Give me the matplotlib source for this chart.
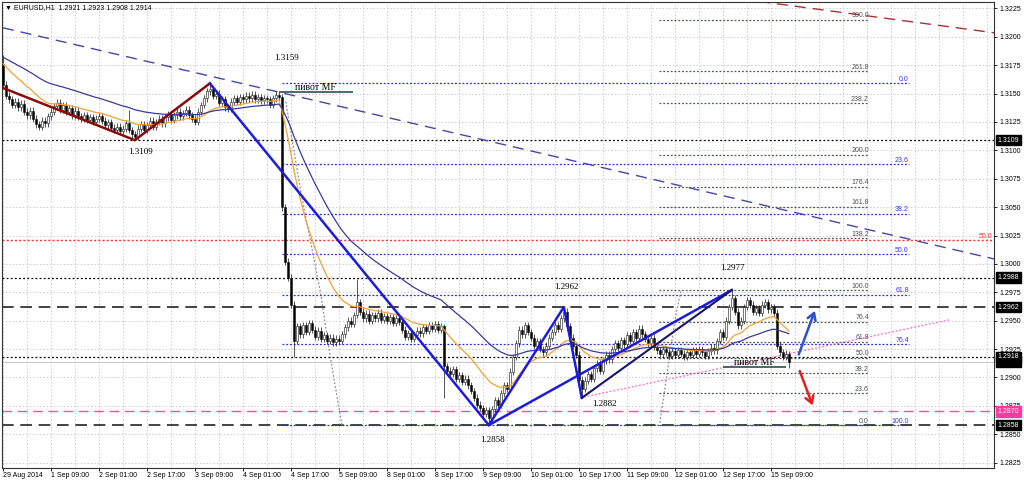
import numpy as np
import matplotlib.pyplot as plt
import matplotlib.transforms as mtransforms

# hourly EURUSD closes (bar 0 = 29 Aug 2014)
first_open = 1.3176
closes = [
    1.3158, 1.3148, 1.3145, 1.3140, 1.3143, 1.3138, 1.3141, 1.3134, 1.3131, 1.3135,
    1.3128, 1.3123, 1.3121, 1.3126, 1.3124, 1.3130, 1.3134, 1.3139, 1.3142, 1.3136,
    1.3140, 1.3134, 1.3137, 1.3131, 1.3135, 1.3130, 1.3128, 1.3131, 1.3127, 1.3129,
    1.3125, 1.3128, 1.3130, 1.3126, 1.3122, 1.3125, 1.3120, 1.3118, 1.3121, 1.3117,
    1.3119, 1.3124, 1.3118, 1.3114, 1.3112, 1.3119, 1.3123, 1.3118, 1.3122, 1.3126,
    1.3121, 1.3125, 1.3128, 1.3124, 1.3129, 1.3132, 1.3127, 1.3131, 1.3134, 1.3130,
    1.3133, 1.3136, 1.3131, 1.3128, 1.3125, 1.3134, 1.3140, 1.3146, 1.3152, 1.3154,
    1.3148, 1.3150, 1.3142, 1.3145, 1.3138, 1.3137, 1.3143, 1.3146, 1.3143, 1.3147,
    1.3145, 1.3148, 1.3146, 1.3149, 1.3145, 1.3147, 1.3144, 1.3146, 1.3145, 1.3140,
    1.3146, 1.3149, 1.3147, 1.3050, 1.3002, 1.2988, 1.2964, 1.2932, 1.2945, 1.2938,
    1.2946, 1.2940, 1.2948, 1.2942, 1.2936, 1.2941, 1.2934, 1.2937, 1.2932, 1.2935,
    1.2931, 1.2934, 1.2932, 1.2938, 1.2944, 1.2950, 1.2947, 1.2955, 1.2966, 1.2958,
    1.2952, 1.2956, 1.2950, 1.2955, 1.2952, 1.2957, 1.2951, 1.2954, 1.2950, 1.2953,
    1.2948, 1.2952, 1.2949, 1.2942, 1.2936, 1.2939, 1.2934, 1.2937, 1.2941, 1.2939,
    1.2944, 1.2941, 1.2946, 1.2943, 1.2947, 1.2942, 1.2945, 1.2910, 1.2906, 1.2903,
    1.2907, 1.2899, 1.2902, 1.2896, 1.2899, 1.2893, 1.2888, 1.2882, 1.2876, 1.2873,
    1.2868, 1.2871, 1.2864, 1.2872, 1.2880, 1.2876, 1.2886, 1.2893, 1.2890, 1.2905,
    1.2918, 1.2930, 1.2942, 1.2938, 1.2946, 1.2940, 1.2935, 1.2928, 1.2932, 1.2925,
    1.2922, 1.2928, 1.2935, 1.2940, 1.2946, 1.2943, 1.2952, 1.2958, 1.2945, 1.2935,
    1.2928, 1.2920, 1.2898, 1.2890, 1.2897, 1.2903, 1.2899, 1.2908, 1.2912, 1.2906,
    1.2915, 1.2920, 1.2916, 1.2925, 1.2930, 1.2926, 1.2933, 1.2929, 1.2937, 1.2932,
    1.2940, 1.2935, 1.2943, 1.2938, 1.2934, 1.2930, 1.2935, 1.2927, 1.2924, 1.2921,
    1.2925, 1.2922, 1.2919, 1.2923, 1.2920, 1.2924, 1.2921, 1.2918, 1.2922, 1.2920,
    1.2924, 1.2921, 1.2925, 1.2922, 1.2919, 1.2923, 1.2926, 1.2924, 1.2932, 1.2940,
    1.2936, 1.2950, 1.2962, 1.2970, 1.2958, 1.2946, 1.2950, 1.2962, 1.2968, 1.2964,
    1.2958, 1.2961, 1.2957, 1.2964, 1.2966, 1.2960, 1.2962, 1.2957, 1.2928, 1.2922,
    1.2918, 1.2921, 1.2914,
]
wick = 0.0003
high_spikes = {0: 1.3184, 42: 1.3136, 69: 1.3159, 93: 1.3150, 118: 1.2987,
               147: 1.2947, 187: 1.2962, 243: 1.2977, 262: 1.2923}
low_spikes = {44: 1.3109, 97: 1.2918, 147: 1.2882, 162: 1.2858, 193: 1.2882, 262: 1.2908}

x_labels = ["29 Aug 2014", "1 Sep 09:00", "2 Sep 01:00", "2 Sep 17:00", "3 Sep 09:00",
            "4 Sep 01:00", "4 Sep 17:00", "5 Sep 09:00", "8 Sep 01:00", "8 Sep 17:00",
            "9 Sep 09:00", "10 Sep 01:00", "10 Sep 17:00", "11 Sep 09:00", "12 Sep 01:00",
            "12 Sep 17:00", "15 Sep 09:00"]
label_step = 16

ma_fast_seed = 1.3178
ma_slow_seed = 1.3183

# horizontal levels
lvl_dotted = [1.3109, 1.2988, 1.2918]
lvl_dashed = [1.2962, 1.2858]
lvl_pink = 1.2870
bid = 1.2914
red_fib_level = 1.3021

# fibo grids
fib_blue_top, fib_blue_bottom = 1.3159, 1.2858
fib_blue_ratios = [0.0, 23.6, 38.2, 50.0, 61.8, 76.4, 100.0]
fib_blue_span = (93, 302)
fib_grey_low, fib_grey_high = 1.2858, 1.2977
fib_grey_ratios = [0.0, 23.6, 38.2, 50.0, 61.8, 76.4, 100.0, 138.2, 161.8, 176.4,
                   200.0, 238.2, 261.8, 300.0]
fib_grey_span = (218.7, 288.7)

# zigzags
brown_zz_bars, brown_zz_prices = [0, 44, 69], [1.3155, 1.3109, 1.3159]
blue_zz_bars, blue_zz_prices = [69, 162, 187, 193], [1.3159, 1.2858, 1.2962, 1.2882]
navy_zz_bars, navy_zz_prices = [193, 243], [1.2882, 1.2977]
blue2_bars, blue2_prices = [162, 243], [1.2858, 1.2977]

swing_values = [1.3159, 1.3109, 1.2962, 1.2882, 1.2858, 1.2977]
swing_label_bars = [94.7, 46, 187.7, 200.7, 163.3, 243.3]
swing_label_prices = [1.3181, 1.3099, 1.2980, 1.2877, 1.2845, 1.2996]

# trend lines
navy_trend = ([0, 331], [1.3208, 1.30040])
brown_trend = ([230, 331], [1.32390, 1.32034])
pink_trend = ([193.7, 316], [1.28827, 1.2951])
arc1_bars = [94.3, 99.3, 106, 108.7, 113]
arc1_prices = [1.3143, 1.3064, 1.2973, 1.2925, 1.2858]
arc2_bars = [219, 221.5, 224, 226]
arc2_prices = [1.2860, 1.2905, 1.2950, 1.2976]

pivots = [(92, 116.7, 1.3151), (240, 261, 1.2909)]

up_arrow = ((265, 1.2918), (271, 1.2961))
down_arrow = ((265.3, 1.2908), (270.3, 1.2873))

# ---- build candles ----
c = np.array(closes)
n = len(c)
idx = np.arange(n)
o = np.concatenate([[first_open], c[:-1]])
hi = np.maximum(o, c) + wick
lo = np.minimum(o, c) - wick
for k, v in high_spikes.items():
    hi[k] = v
for k, v in low_spikes.items():
    lo[k] = v


def ema(vals, period, seed):
    a = 2.0 / (period + 1)
    out, e = [], seed
    for v in vals:
        e += a * (v - e)
        out.append(e)
    return np.array(out)


ma_fast = ema(c, 21, ma_fast_seed)
ma_slow = ema(c, 50, ma_slow_seed)

plt.rcParams['font.family'] = ['Liberation Sans', 'DejaVu Sans']
fig = plt.figure(figsize=(10.24, 4.82), dpi=100)
ax = fig.add_axes([2 / 1024, 14 / 482, 992 / 1024, 466 / 482])
ax.set_xlim(-0.3, 330.4)
ax.set_ylim(1.28202, 1.32307)

# grid
dot = (0, (1.5, 2.0))
for xg in np.arange(0, 331, 8):
    ax.axvline(xg, color='#cccccc', lw=0.7, ls=dot, zorder=0)
yticks = np.arange(1.2825, 1.32251, 0.0025)
for yg in yticks:
    ax.axhline(yg, color='#cccccc', lw=0.7, ls=dot, zorder=0)

# horizontal levels
for p in lvl_dotted:
    ax.axhline(p, color='black', lw=0.9, ls=(0, (1.5, 1.8)), zorder=1)
for p in lvl_dashed:
    ax.axhline(p, color='#222222', lw=1.2, ls=(0, (7, 4)), zorder=1)
ax.axhline(lvl_pink, color='#ff4fa0', lw=1.0, ls=(0, (7, 4)), zorder=1)
ax.axhline(bid, color='#c8c8c8', lw=0.8, zorder=1)
ax.axhline(red_fib_level, color='#ff3030', lw=1.0, ls=(0, (1.5, 1.5)), zorder=1)
ax.text(330, red_fib_level + 0.00004, "50.0", color='#ff3030', fontsize=5,
        ha='right', va='bottom')

# fibo blue
rng = fib_blue_top - fib_blue_bottom
for r in fib_blue_ratios:
    p = fib_blue_top - rng * r / 100
    ax.hlines(p, *fib_blue_span, colors='#2828ee', lw=0.9, ls=(0, (1.5, 1.5)), zorder=1)
    ax.text(fib_blue_span[1], p + 0.00004, f"{r:.1f}", color='#3535ff', fontsize=5,
            ha='right', va='bottom')

# fibo grey
rng = fib_grey_high - fib_grey_low
for r in fib_grey_ratios:
    p = fib_grey_low + rng * r / 100
    ax.hlines(p, *fib_grey_span, colors='#4d5b4d', lw=0.9, ls=(0, (1.5, 1.5)), zorder=1)
    ax.text(fib_grey_span[1], p + 0.00004, f"{r:.1f}", color='#505050', fontsize=5,
            ha='right', va='bottom')

# trend lines and arcs
ax.plot(*navy_trend, color='#4646a8', lw=1.0, ls=(0, (8, 5)), zorder=2)
ax.plot(*brown_trend, color='#a83232', lw=1.0, ls=(0, (8, 5)), zorder=2)
ax.plot(*pink_trend, color='#ff66cc', lw=0.9, ls=(0, (1.5, 1.5)), zorder=2)
ax.plot(arc1_bars, arc1_prices, color='#909090', lw=0.9, ls=(0, (1.5, 1.5)), zorder=2)
ax.plot(arc2_bars, arc2_prices, color='#909090', lw=0.9, ls=(0, (1.5, 1.5)), zorder=2)

# candles
ax.vlines(idx, lo, hi, color='#111111', lw=0.5, zorder=3)
body = np.maximum(np.abs(c - o), 0.00004)
ax.bar(idx, body, bottom=np.minimum(o, c), width=0.62,
       color=np.where(c >= o, 'white', 'black'), edgecolor='#111111', lw=0.4, zorder=3)

# moving averages
ax.plot(idx, ma_fast, color='#f5a030', lw=0.9, zorder=4)
ax.plot(idx, ma_slow, color='#3a3a9e', lw=0.9, zorder=4)

# zigzags
ax.plot(brown_zz_bars, brown_zz_prices, color='#8b0a0a', lw=1.8, zorder=5)
ax.plot(blue_zz_bars, blue_zz_prices, color='#1c1ce0', lw=1.8, zorder=5)
ax.plot(blue2_bars, blue2_prices, color='#1c1ce0', lw=1.8, zorder=5)
ax.plot(navy_zz_bars, navy_zz_prices, color='#161670', lw=1.5, zorder=5)

for v, xb, yp in zip(swing_values, swing_label_bars, swing_label_prices):
    ax.text(xb, yp, f"{v:.4f}", fontsize=6.5, family='Liberation Serif',
            ha='center', va='center', color='black', zorder=6)

# pivot MF marks
for x0, x1, p in pivots:
    ax.hlines(p, x0, x1, colors='#2f4f4f', lw=1.2, zorder=6)
    ax.text((x0 + x1) / 2, p + 0.00002, "пивот MF", fontsize=7, family='Liberation Serif',
            ha='center', va='bottom', color='black', zorder=6)

# arrows
ax.annotate('', xy=up_arrow[1], xytext=up_arrow[0],
            arrowprops=dict(arrowstyle='->,head_length=0.5,head_width=0.3',
                            color='#3050c8', lw=1.8), zorder=7)
ax.annotate('', xy=down_arrow[1], xytext=down_arrow[0],
            arrowprops=dict(arrowstyle='->,head_length=0.5,head_width=0.3',
                            color='#e02020', lw=1.8), zorder=7)

# axes and ticks
ax.yaxis.tick_right()
ax.set_yticks(yticks)
ax.set_yticklabels([f"{t:.4f}" for t in yticks])
ax.set_xticks(np.arange(len(x_labels)) * label_step)
ax.set_xticklabels(x_labels)
for t in ax.get_xticklabels():
    t.set_horizontalalignment('left')
ax.tick_params(axis='y', length=2, pad=2, labelsize=5, width=0.6)
ax.tick_params(axis='x', length=2, pad=1, labelsize=5, width=0.6)
for s in ax.spines.values():
    s.set_linewidth(0.8)
    s.set_color('#333333')

# price tags on the right scale
trans = mtransforms.blended_transform_factory(ax.transAxes, ax.transData)


def tag(p, face):
    ax.text(1.004, p, f"{p:.4f}", transform=trans, fontsize=5, color='white',
            va='center', ha='left', clip_on=False, zorder=10,
            bbox=dict(boxstyle='square,pad=0.25', fc=face, ec=face))


tag(bid, 'black')
for p in [1.3109, 1.2988, 1.2962, 1.2918, 1.2858]:
    tag(p, 'black')
tag(lvl_pink, '#ff3aa0')

fig.text(5 / 1024, 1 - 8 / 482,
         f"▼ EURUSD,H1  {o[-1]:.4f} {hi[-1]:.4f} {lo[-1]:.4f} {c[-1]:.4f}",
         fontsize=5, va='center', ha='left')

fig.savefig('out.png', dpi=100)
